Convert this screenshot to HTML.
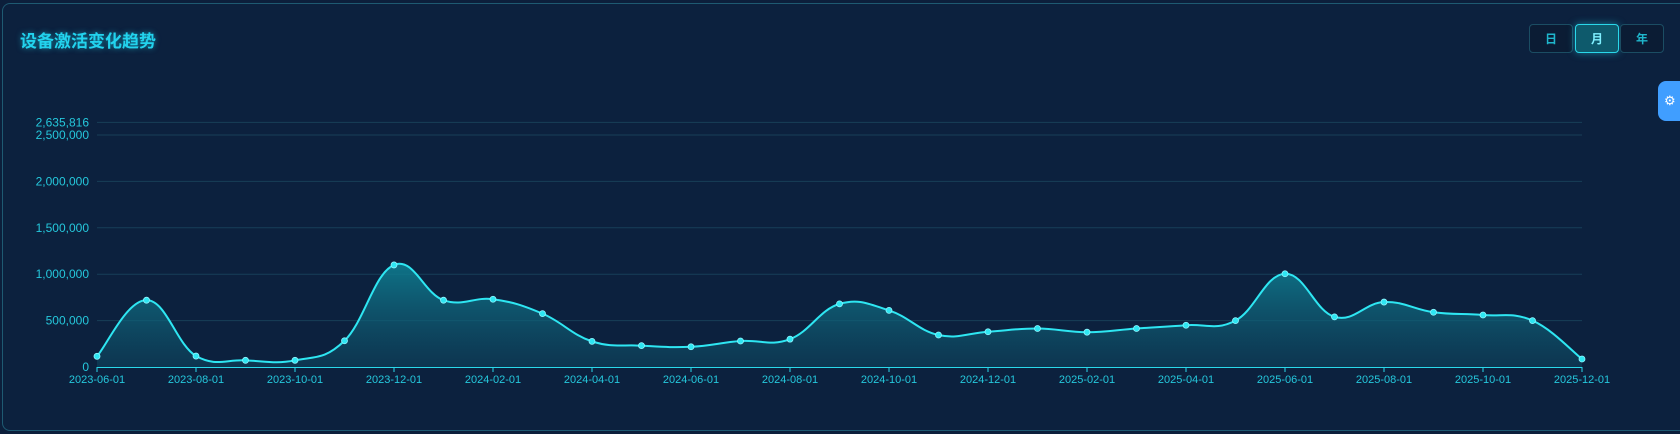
<!DOCTYPE html>
<html><head><meta charset="utf-8"><style>
html,body{margin:0;padding:0;background:#0c1f3b;width:1680px;height:434px;overflow:hidden;font-family:"Liberation Sans","Noto Sans CJK SC",sans-serif}
.panel{position:absolute;left:2px;top:3px;width:1690px;height:428px;border:1px solid #1e5a72;border-radius:8px;background:#0c213e;box-sizing:border-box}
.title{position:absolute;left:20px;top:27px;font-size:17px;font-weight:bold;color:#22d3ee;text-shadow:0 0 6px rgba(34,211,238,.6);font-family:"Noto Sans CJK SC",sans-serif}
.btn{position:absolute;top:24px;width:44px;height:29px;border:1px solid #1b4d63;border-radius:4px;box-sizing:border-box;color:#1fb6cc;font-size:12px;font-weight:bold;text-align:center;line-height:27px;background:#0b1c34;font-family:"Noto Sans CJK SC",sans-serif}
.btn.on{background:#0e5a6c;border-color:#2ad8ea;color:#7ff0ff;box-shadow:0 0 8px rgba(34,211,238,.5)}
.gear{position:absolute;left:1658px;top:81px;width:30px;height:40px;background:#409eff;border-radius:8px 0 0 8px;color:#fff;font-size:13px;line-height:40px;padding-left:6px;box-sizing:border-box}
svg{position:absolute;left:0;top:0}
</style></head><body>
<div class="panel"></div>
<div class="title">设备激活变化趋势</div>
<div class="btn" style="left:1529px">日</div>
<div class="btn on" style="left:1575px">月</div>
<div class="btn" style="left:1620px">年</div>
<div class="gear">⚙</div>
<svg id="c" width="1680" height="434" xmlns="http://www.w3.org/2000/svg"></svg>
<script>
var vals=[0.115,0.72,0.118,0.072,0.072,0.283,1.10,0.72,0.73,0.575,0.276,0.23,0.218,0.28,0.30,0.68,0.61,0.345,0.38,0.415,0.375,0.415,0.45,0.50,1.005,0.54,0.70,0.59,0.56,0.50,0.086];
var x0=97,dx=49.5,y0=367,k=92.8;
var P=vals.map(function(v,i){return [x0+i*dx,y0-v*k]});
var s='<defs><linearGradient id="g" x1="0" y1="0" x2="0" y2="1"><stop offset="0" stop-color="#0f8295" stop-opacity="0.85"/><stop offset="1" stop-color="#0e4a63" stop-opacity="0.5"/></linearGradient></defs>';
var grid=[[0,'0'],[0.5,'500,000'],[1,'1,000,000'],[1.5,'1,500,000'],[2,'2,000,000'],[2.5,'2,500,000'],[2.635816,'2,635,816']];
grid.forEach(function(g){var y=y0-g[0]*k;
 if(g[0]>0)s+='<line x1="97" x2="1582" y1="'+y+'" y2="'+y+'" stroke="#173f58" stroke-width="1"/>';
 s+='<text x="89" y="'+(y+4)+'" text-anchor="end" font-size="12" fill="#25c8dc">'+g[1]+'</text>';});
var d='M'+P[0][0]+','+P[0][1];
for(var i=0;i<P.length-1;i++){var p0=P[Math.max(i-1,0)],p1=P[i],p2=P[i+1],p3=P[Math.min(i+2,P.length-1)];var t=0.2;
 var c1=[p1[0]+(p2[0]-p0[0])*t,p1[1]+(p2[1]-p0[1])*t],c2=[p2[0]-(p3[0]-p1[0])*t,p2[1]-(p3[1]-p1[1])*t];
 c1[1]=Math.min(c1[1],y0);c2[1]=Math.min(c2[1],y0);
 d+=' C'+c1[0]+','+c1[1]+' '+c2[0]+','+c2[1]+' '+p2[0]+','+p2[1];}
s+='<path d="'+d+' L1582,367 L97,367 Z" fill="url(#g)"/>';
s+='<line x1="97" x2="1582" y1="367.5" y2="367.5" stroke="#2ad8ea" stroke-width="1"/>';
var labs=['2023-06-01','2023-08-01','2023-10-01','2023-12-01','2024-02-01','2024-04-01','2024-06-01','2024-08-01','2024-10-01','2024-12-01','2025-02-01','2025-04-01','2025-06-01','2025-08-01','2025-10-01','2025-12-01'];
labs.forEach(function(l,j){var x=x0+j*2*dx;s+='<line x1="'+x+'" x2="'+x+'" y1="367" y2="372" stroke="#2ad8ea"/><text x="'+x+'" y="383" text-anchor="middle" font-size="11" fill="#25c8dc">'+l+'</text>';});
s+='<path d="'+d+'" fill="none" stroke="#2ee6f2" stroke-width="2"/>';
P.forEach(function(p){s+='<circle cx="'+p[0]+'" cy="'+p[1]+'" r="3" fill="#2ee6f2" stroke="#8ff6ff" stroke-width="0.8"/>';});
document.getElementById('c').innerHTML=s;
</script>
</body></html>
